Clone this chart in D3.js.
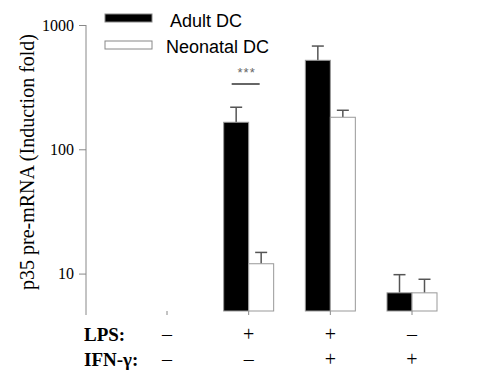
<!DOCTYPE html>
<html>
<head>
<meta charset="utf-8">
<script src="https://cdn.jsdelivr.net/npm/d3@7"></script>
<style>
  body { margin: 0; background: #fff; }
  svg { display: block; }
</style>
</head>
<body>
<div id="chart"></div>
<script>
// data
const groups = ['g1', 'g2', 'g3', 'g4'];
const lpsLabels = ['\u2013', '+', '+', '\u2013'];
const ifnLabels = ['\u2013', '\u2013', '+', '+'];
const adultValues = [null, 165, 520, 7];
const adultErrors = [null, 218, 677, 9.8];
const neoValues = [null, 12, 181, 7];
const neoErrors = [null, 14.8, 206, 9];
const yTicks = [10, 100, 1000];

const width = 485, height = 371;
const serif = 'Liberation Serif, Times New Roman, serif';
const sans = 'Liberation Sans, Arial, sans-serif';

const svg = d3.select('#chart')
    .append('svg')
    .attr('width', width)
    .attr('height', height);

// scales
const x = d3.scalePoint()
    .domain(groups)
    .range([167, 412]);

const y = d3.scaleLog()
    .domain([5, 1000])
    .range([311, 25]);

const barW = 25;
const axisX = 86;

// y axis
const yAxis = d3.axisLeft(y)
    .tickValues(yTicks)
    .tickFormat(d3.format('d'))
    .tickSize(7)
    .tickSizeOuter(0);

const gy = svg.append('g')
    .attr('transform', `translate(${axisX},0)`)
    .call(yAxis);
gy.select('.domain').remove();
gy.selectAll('.tick line').attr('stroke', '#888');
gy.selectAll('.tick text')
    .attr('font-family', serif)
    .attr('font-size', 16)
    .attr('fill', '#000')
    .attr('x', -12);
gy.append('line')
    .attr('x1', 0).attr('x2', 0)
    .attr('y1', y(1000)).attr('y2', 315)
    .attr('stroke', '#888');

// y label
svg.append('text')
    .attr('transform', 'translate(34,162) rotate(-90)')
    .attr('text-anchor', 'middle')
    .attr('font-family', serif)
    .attr('font-size', 20)
    .text('p35 pre-mRNA (Induction fold)');

// small ticks at group centers
svg.selectAll('.gtick')
    .data(groups)
    .join('line')
    .attr('class', 'gtick')
    .attr('x1', d => x(d)).attr('x2', d => x(d))
    .attr('y1', y(5)).attr('y2', 315)
    .attr('stroke', '#888');

const series = [
    { vals: adultValues, errs: adultErrors, off: -barW, fill: '#000' },
    { vals: neoValues, errs: neoErrors, off: 0, fill: '#fff' }
];

series.forEach(s => {
    const data = groups.map((g, i) => ({ g, v: s.vals[i], e: s.errs[i] }))
        .filter(d => d.v !== null);

    // error bars (upper only)
    const eb = svg.append('g');
    eb.selectAll('line.err')
        .data(data)
        .join('line')
        .attr('class', 'err')
        .attr('x1', d => x(d.g) + s.off + barW / 2)
        .attr('x2', d => x(d.g) + s.off + barW / 2)
        .attr('y1', d => y(d.v))
        .attr('y2', d => y(d.e))
        .attr('stroke', '#555')
        .attr('stroke-width', 1.5);
    eb.selectAll('line.cap')
        .data(data)
        .join('line')
        .attr('class', 'cap')
        .attr('x1', d => x(d.g) + s.off + barW / 2 - 6)
        .attr('x2', d => x(d.g) + s.off + barW / 2 + 6)
        .attr('y1', d => y(d.e))
        .attr('y2', d => y(d.e))
        .attr('stroke', '#555')
        .attr('stroke-width', 1.5);

    svg.append('g').selectAll('rect')
        .data(data)
        .join('rect')
        .attr('x', d => x(d.g) + s.off)
        .attr('y', d => y(d.v))
        .attr('width', barW)
        .attr('height', d => y(5) - y(d.v))
        .attr('fill', s.fill)
        .attr('stroke', '#999')
        .attr('stroke-width', 1);
});

// significance marker
const sigX = x('g2') - 3;
svg.append('line')
    .attr('x1', sigX - 14).attr('x2', sigX + 14)
    .attr('y1', 84).attr('y2', 84)
    .attr('stroke', '#333')
    .attr('stroke-width', 1.5);
svg.append('text')
    .attr('x', sigX + 1)
    .attr('y', 77)
    .attr('text-anchor', 'middle')
    .attr('font-family', sans)
    .attr('font-size', 13)
    .attr('letter-spacing', 1)
    .attr('fill', '#666')
    .text('***');

// legend
const legend = [
    { label: 'Adult DC', fill: '#000', y: 14, tx: 170, ty: 27 },
    { label: 'Neonatal DC', fill: '#fff', y: 41, tx: 166, ty: 53 }
];
const lg = svg.append('g');
lg.selectAll('rect')
    .data(legend)
    .join('rect')
    .attr('x', 105)
    .attr('y', d => d.y)
    .attr('width', 47)
    .attr('height', 8)
    .attr('fill', d => d.fill)
    .attr('stroke', '#888');
lg.selectAll('text')
    .data(legend)
    .join('text')
    .attr('x', d => d.tx)
    .attr('y', d => d.ty)
    .attr('font-family', sans)
    .attr('font-size', 18)
    .text(d => d.label);

// treatment rows
const rows = [
    { name: 'LPS:', labels: lpsLabels, y: 341 },
    { name: 'IFN-\u03b3:', labels: ifnLabels, y: 366 }
];
rows.forEach(r => {
    svg.append('text')
        .attr('x', 84)
        .attr('y', r.y)
        .attr('font-family', serif)
        .attr('font-weight', 'bold')
        .attr('font-size', 19)
        .text(r.name);
    svg.append('g').selectAll('text')
        .data(groups)
        .join('text')
        .attr('x', d => x(d))
        .attr('y', r.y)
        .attr('text-anchor', 'middle')
        .attr('font-family', serif)
        .attr('font-size', 20)
        .text((d, i) => r.labels[i]);
});
</script>
</body>
</html>
